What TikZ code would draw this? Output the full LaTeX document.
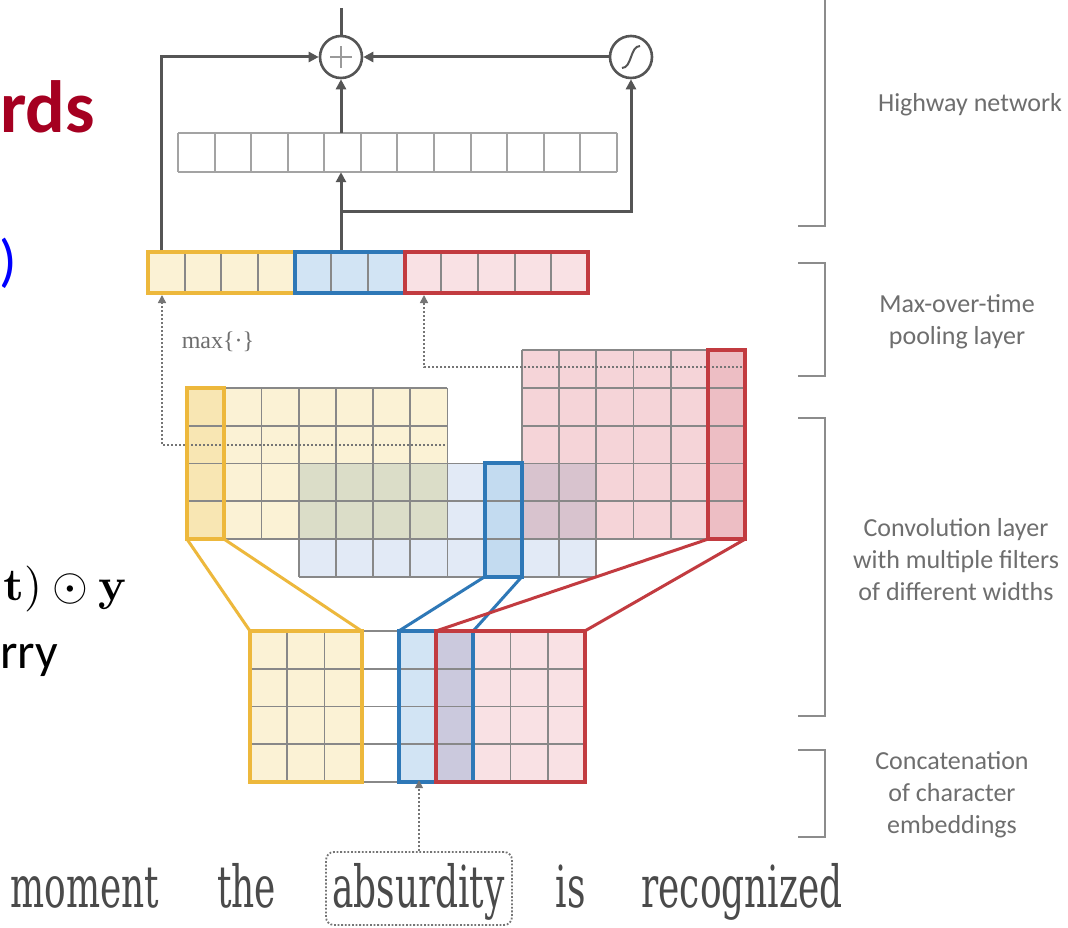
\documentclass[tikz,border=0pt]{standalone}
\usepackage[no-math]{fontspec}
\usepackage{graphicx}
\setmainfont{Liberation Serif}
\newfontfamily\wordfont{DejaVu Serif}
\newfontfamily\calib{Carlito}
\usetikzlibrary{arrows.meta}
\definecolor{arrgray}{HTML}{555555}
\definecolor{gridgray}{HTML}{888888}
\definecolor{hwgray}{HTML}{A3A3A3}
\definecolor{dashgray}{HTML}{757575}
\definecolor{brgray}{HTML}{8C8C8C}
\definecolor{lblgray}{HTML}{6E6E6E}
\definecolor{wordgray}{HTML}{4A4A4A}
\definecolor{plusgray}{HTML}{9A9A9A}
\definecolor{ylwF}{HTML}{FBF2D5}
\definecolor{ylwH}{HTML}{F8E6B3}
\definecolor{ylwB}{HTML}{EDB83C}
\definecolor{bluF}{HTML}{D2E4F4}
\definecolor{bluL}{HTML}{E2EAF6}
\definecolor{bluH}{HTML}{C3DBF0}
\definecolor{bluB}{HTML}{2E78B7}
\definecolor{redF}{HTML}{F5D4D8}
\definecolor{redH}{HTML}{EDBEC4}
\definecolor{redB}{HTML}{C23B40}
\definecolor{redP}{HTML}{F9E1E4}
\definecolor{ybO}{HTML}{DBDDC8}
\definecolor{brO}{HTML}{D8C3CE}
\definecolor{purO}{HTML}{CBC9DD}
\definecolor{titred}{HTML}{A50021}
\newcommand\sqz[1]{\scalebox{0.62}[1]{#1}}
\newcommand\mygrid[7]{%
  \foreach \i in {0,...,#3}{\draw[#7] ({#1+\i*#5},#2) -- ({#1+\i*#5},{#2+#4*#6});}%
  \foreach \j in {0,...,#4}{\draw[#7] (#1,{#2+\j*#6}) -- ({#1+#3*#5},{#2+\j*#6});}}
\begin{document}
\begin{tikzpicture}[x=1pt,y=-1pt,
  arr/.style={draw=arrgray, line width=3pt},
  tipa/.style={-{Triangle[length=10pt,width=10pt]}},
  tipd/.style={-{Triangle[length=8pt,width=8pt]}},
  gridl/.style={draw=gridgray, line width=1.8pt},
  hwl/.style={draw=hwgray, line width=2pt},
  dsh/.style={draw=dashgray, line width=1.6pt, dash pattern=on 2.5pt off 1.5pt},
  thk/.style={line width=4pt},
  con/.style={line width=3pt},
  brk/.style={draw=brgray, line width=2pt},
  lbl/.style={align=center, inner sep=0, text=lblgray, font=\calib\fontsize{26}{32}\selectfont},
  bw/.style={anchor=base, inner sep=0, text=wordgray, font=\wordfont\fontsize{58}{64}\selectfont},
  opn/.style={circle, draw=arrgray, line width=2.6pt, minimum size=42pt, inner sep=0, fill=white}]
\useasboundingbox (0,0) rectangle (1068,928);
\fill[white] (0,0) rectangle (1068,928);

% ---------- left slide fragments ----------
\node[anchor=base east, inner sep=0, text=titred, font=\calib\bfseries\fontsize{74}{80}\selectfont] (rds) at (95,133) {rds};
\node[anchor=base east, inner sep=0, text=blue, font=\calib\fontsize{58}{60}\selectfont] (par) at (17,280) {)};
\node[anchor=base east, inner sep=0] (mth) at (127,600) {\scalebox{4.6}{$\mathbf{t})\odot\mathbf{y}$}};
\node[anchor=base east, inner sep=0, font=\calib\fontsize{50}{55}\selectfont] (rry) at (58,668) {rry};

% ---------- highway network ----------
\node[opn] (plus) at (341,57) {};
\draw[plusgray, line width=1.5pt] ([xshift=-11pt]plus.center) -- ([xshift=11pt]plus.center)
  ([yshift=-11pt]plus.center) -- ([yshift=11pt]plus.center);
\node[opn] (sig) at (631,57) {};
\draw[arrgray, line width=2pt] (622,68) .. controls (632,68) and (630,46) .. (640,46);

\node[minimum width=439pt, minimum height=39pt, inner sep=0] (hw) at (397.5,152.5) {};
\mygrid{178}{133}{12}{1}{36.58}{39}{hwl}

% pooling vector
\node[minimum width=440pt, minimum height=41pt, inner sep=0] (pool) at (368,272.5) {};
\fill[ylwF] (148,252) rectangle (294.7,293);
\fill[bluF] (294.7,252) rectangle (404.7,293);
\fill[redP] (404.7,252) rectangle (588,293);
\mygrid{148}{252}{12}{1}{36.67}{41}{gridl}
\draw[ylwB,thk] (148,252) rectangle (294.7,293);
\draw[bluB,thk] (294.7,252) rectangle (404.7,293);
\draw[redB,thk] (404.7,252) rectangle (588,293);

\coordinate (pl) at (161,250);
\coordinate (br) at (341,212);
\draw[arr] (plus.north) -- (341,8);
\draw[arr,tipa] (pl) |- (plus.west);
\draw[arr,tipa] (sig.west) -- (plus.east);
\draw[arr,tipa] (plus |- hw.north) -- (plus.south);
\draw[arr,tipa] ([yshift=2pt]plus |- pool.north) -- (plus |- hw.south);
\draw[arr,tipa] (br) -| (sig.south);

% ---------- convolution layer ----------
\fill[ylwF] (187,387.8) rectangle (447.4,539.2);
\fill[bluL] (298.6,463.4) rectangle (596.2,576.8);
\fill[redF] (521.8,350) rectangle (745,539.2);
\fill[ybO] (298.6,463.4) rectangle (447.4,539.2);
\fill[brO] (521.8,463.4) rectangle (596.2,539.2);
\fill[ylwH] (187,387.8) rectangle (224.2,539.2);
\fill[bluH] (484.6,463.4) rectangle (521.8,576.8);
\fill[redH] (707.8,350) rectangle (745,539.2);
\mygrid{187}{387.8}{7}{4}{37.2}{37.8}{gridl}
\mygrid{298.6}{463.4}{8}{3}{37.2}{37.8}{gridl}
\mygrid{521.8}{350}{6}{5}{37.2}{37.8}{gridl}

% max-pooling dashed arrows
\coordinate (ya) at (445,445);
\coordinate (ra) at (742,367);
\draw[dsh,tipd] (ya) -| (162,295);
\draw[dsh,tipd] (ra) -| (424,295);
\node[inner sep=0, text=lblgray, font=\fontsize{24}{26}\selectfont] (mx) at (218,342) {max\{\textperiodcentered\}};

\draw[ylwB,thk] (187,387.8) rectangle (224.2,539.2);
\draw[bluB,thk] (484.6,463.4) rectangle (521.8,576.8);
\draw[redB,thk] (707.8,350) rectangle (745,539.2);

% ---------- character embeddings ----------
\node[minimum width=334.8pt, minimum height=151pt, inner sep=0] (emb) at (417.4,706.5) {};
\fill[ylwF] (250,631) rectangle (361.6,782);
\fill[bluF] (398.8,631) rectangle (436,782);
\fill[purO] (436,631) rectangle (473.2,782);
\fill[redP] (473.2,631) rectangle (584.8,782);
\mygrid{250}{631}{9}{4}{37.2}{37.75}{gridl}

% filter connectors
\draw[ylwB,con] (187,539.2) -- (250,631) (224.2,539.2) -- (361.6,631);
\draw[bluB,con] (484.6,576.8) -- (398.8,631) (521.8,576.8) -- (473.2,631);
\draw[redB,con] (707.8,539.2) -- (436,631) (745,539.2) -- (584.8,631);

\draw[ylwB,thk] (250,631) rectangle (361.6,782);
\draw[bluB,thk] (398.8,631) rectangle (473.2,782);
\draw[redB,thk] (436,631) rectangle (584.8,782);

% ---------- words ----------
\node[bw] (w1) at (85,907) {\sqz{moment}};
\node[bw] (w2) at (246.5,907) {\sqz{the}};
\node[bw] (w3) at (418.5,907) {\sqz{absurdity}};
\node[bw] (w4) at (570.5,907) {\sqz{is}};
\node[bw] (w5) at (742,907) {\sqz{recognized}};
\node[draw=dashgray, line width=1.8pt, dash pattern=on 1.8pt off 1.8pt, rounded corners=8pt,
  minimum width=186pt, minimum height=73pt, inner sep=0] (box) at (419,888.5) {};
\draw[dsh,tipd] (box.north) -- ([yshift=2pt]box.north |- emb.south);

% ---------- brackets and labels ----------
\draw[brk] (825,0) -- (825,226) -- (798,226);
\draw[brk] (798,263) -- (825,263) -- (825,376) -- (798,376);
\draw[brk] (798,418) -- (825,418) -- (825,716) -- (798,716);
\draw[brk] (798,750) -- (825,750) -- (825,837) -- (798,837);
\node[lbl] (l1) at (970,105) {Highway network};
\node[lbl] (l2) at (957,322) {Max-over-time\\pooling layer};
\node[lbl] (l3) at (956,560) {Convolution layer\\with multiple filters\\of different widths};
\node[lbl] (l4) at (952,795) {Concatenation\\of character\\embeddings};
\end{tikzpicture}
\end{document}
